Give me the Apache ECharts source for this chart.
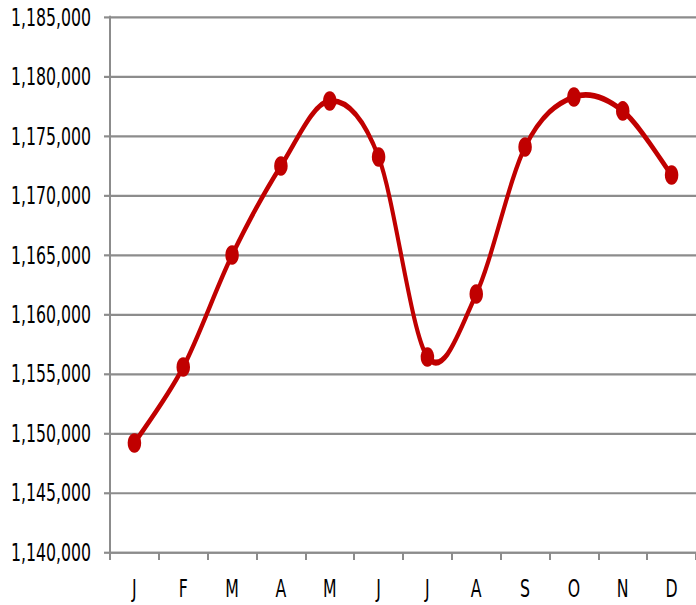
<!DOCTYPE html>
<html>
<head>
<meta charset="utf-8">
<script src="https://cdn.jsdelivr.net/npm/echarts@6/dist/echarts.min.js"></script>
<style>
html,body{margin:0;padding:0;background:#fff;overflow:hidden;}
#wrap{width:696px;height:605px;overflow:hidden;}
#chart{width:696px;height:417px;transform:scaleY(1.4508);transform-origin:0 0;}
</style>
</head>
<body>
<div id="wrap"><div id="chart"></div></div>
<script>
var months = ['J','F','M','A','M','J','J','A','S','O','N','D'];
var values = [1149170, 1155560, 1164980, 1172470, 1177940, 1173230, 1156400, 1161700, 1174070, 1178270, 1177100, 1171710];
var yMin = 1140000;
var yMax = 1185000;
var yStep = 5000;

var FONT = '"DejaVu Sans Condensed", "Liberation Sans Narrow", sans-serif';
var RED = '#c00000';
var GRAY = '#8c8c8c';

function smoothPath(pts) {
  var t = 1 / 6;
  var d = 'M' + pts[0][0] + ' ' + pts[0][1];
  for (var i = 0; i < pts.length - 1; i++) {
    var p0 = pts[i - 1] || pts[i];
    var p1 = pts[i];
    var p2 = pts[i + 1];
    var p3 = pts[i + 2] || pts[i + 1];
    var c1x = p1[0] + (p2[0] - p0[0]) * t;
    var c1y = p1[1] + (p2[1] - p0[1]) * t;
    var c2x = p2[0] - (p3[0] - p1[0]) * t;
    var c2y = p2[1] - (p3[1] - p1[1]) * t;
    d += ' C' + c1x + ' ' + c1y + ' ' + c2x + ' ' + c2y + ' ' + p2[0] + ' ' + p2[1];
  }
  return d;
}

var chart = echarts.init(document.getElementById('chart'), null, { renderer: 'svg' });
chart.setOption({
  animation: false,
  grid: { left: 110, top: 11.7, width: 590, bottom: 36.5, containLabel: false },
  xAxis: {
    type: 'category',
    data: months,
    boundaryGap: true,
    axisLine: { lineStyle: { color: GRAY, width: 1.5 } },
    axisTick: { show: true, length: 5.5, lineStyle: { color: GRAY, width: 2 } },
    axisLabel: { color: '#000', fontFamily: FONT, fontSize: 17.5, margin: 16 },
    splitLine: { show: false }
  },
  yAxis: {
    type: 'value',
    min: yMin, max: yMax, interval: yStep,
    axisLine: { show: true, lineStyle: { color: GRAY, width: 2 } },
    axisTick: { show: true, length: 6, lineStyle: { color: GRAY, width: 1.5 } },
    axisLabel: {
      color: '#000', fontFamily: FONT, fontSize: 17.5, margin: 19,
      formatter: function (v) { return v.toLocaleString('en-US'); }
    },
    splitLine: { show: true, lineStyle: { color: GRAY, width: 1.5 } }
  },
  series: [{
    type: 'custom',
    data: [0],
    z: 2,
    silent: true,
    renderItem: function (params, api) {
      var pts = values.map(function (v, i) { return api.coord([i, v]); });
      return {
        type: 'path',
        shape: { pathData: smoothPath(pts) },
        style: { stroke: RED, lineWidth: 4, fill: null }
      };
    }
  }, {
    type: 'scatter',
    data: values,
    z: 3,
    silent: true,
    symbol: 'circle',
    symbolSize: 13.5,
    itemStyle: { color: RED, opacity: 1 }
  }]
});
</script>
</body>
</html>
